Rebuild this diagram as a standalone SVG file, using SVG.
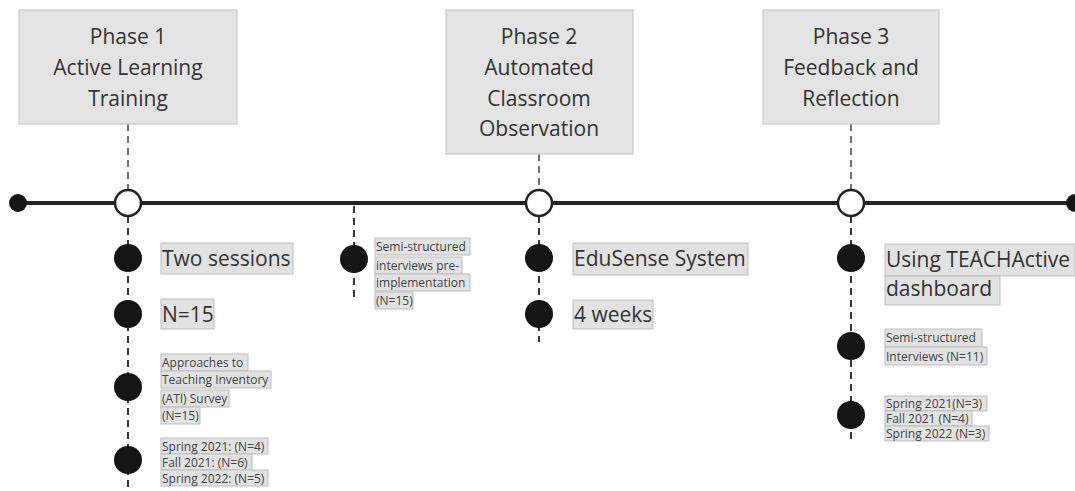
<svg xmlns="http://www.w3.org/2000/svg" width="1075" height="491" viewBox="0 0 1075 491">
<style>
.phase rect{fill:#e4e4e4;stroke:#c8c8c8;stroke-width:1.2}
.phase text{font-family:"Open Sans","DejaVu Sans",sans-serif;font-size:21px;fill:#333;text-anchor:middle}
.hl{fill:#e2e2e2;stroke:#bdbdbd;stroke-width:1}
.big{font-family:"Open Sans","DejaVu Sans",sans-serif;font-size:21px;fill:#333}
.sm{font-family:"Open Sans","DejaVu Sans",sans-serif;font-size:12px;fill:#444}
.dot{fill:#151515}
.hollow{fill:#fff;stroke:#222;stroke-width:2.5}
.up{stroke:#4a4a68;stroke-width:1.6;stroke-dasharray:7 5;fill:none}
.down{stroke:#222;stroke-width:1.8;stroke-dasharray:7 5;fill:none}
</style>
<g id="connectors">
<line class="up" x1="128" y1="124" x2="128" y2="192"/>
<line class="up" x1="539" y1="154" x2="539" y2="192"/>
<line class="up" x1="851" y1="124" x2="851" y2="192"/>
<line class="down" x1="128" y1="216" x2="128" y2="491"/>
<line class="down" x1="539" y1="216" x2="539" y2="342"/>
<line class="down" x1="851" y1="216" x2="851" y2="442"/>
<line class="down" x1="354" y1="206" x2="354" y2="298"/>
<line x1="18" y1="203" x2="1075" y2="203" stroke="#222" stroke-width="4"/>
</g>
<g id="timeline-ends">
<circle class="dot" cx="18" cy="203" r="9"/>
<circle class="dot" cx="1075" cy="203" r="9"/>
</g>
<g id="milestone1"><circle class="hollow" cx="128" cy="203" r="13"/></g>
<g id="milestone2"><circle class="hollow" cx="539" cy="203" r="13"/></g>
<g id="milestone3"><circle class="hollow" cx="851" cy="203" r="13"/></g>
<g id="phase1" class="phase">
<rect x="19" y="10" width="218" height="114"/>
<text x="128" y="44">Phase 1</text>
<text x="128" y="75">Active Learning</text>
<text x="128" y="106">Training</text>
</g>
<g id="phase2" class="phase">
<rect x="446" y="10" width="187" height="144"/>
<text x="539" y="44">Phase 2</text>
<text x="539" y="75">Automated</text>
<text x="539" y="106">Classroom</text>
<text x="539" y="136">Observation</text>
</g>
<g id="phase3" class="phase">
<rect x="763" y="10" width="176" height="114"/>
<text x="851" y="44">Phase 3</text>
<text x="851" y="75">Feedback and</text>
<text x="851" y="106">Reflection</text>
</g>
<g id="p1-two-sessions">
<circle class="dot" cx="128" cy="258" r="14"/>
<rect class="hl" x="161" y="243" width="132" height="31"/>
<text class="big" x="162" y="266">Two sessions</text>
</g>
<g id="p1-n15">
<circle class="dot" cx="128" cy="314" r="14"/>
<rect class="hl" x="161" y="299" width="53" height="30"/>
<text class="big" x="162" y="322">N=15</text>
</g>
<g id="p1-ati">
<circle class="dot" cx="128" cy="387" r="14"/>
<rect class="hl" x="161" y="354" width="87" height="17"/>
<rect class="hl" x="161" y="371" width="110" height="17"/>
<rect class="hl" x="161" y="390" width="68" height="17"/>
<rect class="hl" x="161" y="407" width="39" height="17"/>
<text class="sm" x="162" y="367">Approaches to</text>
<text class="sm" x="162" y="384">Teaching Inventory</text>
<text class="sm" x="162" y="403">(ATI) Survey</text>
<text class="sm" x="162" y="420">(N=15)</text>
</g>
<g id="p1-semesters">
<circle class="dot" cx="128" cy="460" r="14"/>
<rect class="hl" x="161" y="438" width="107" height="16"/>
<rect class="hl" x="161" y="454" width="91" height="16"/>
<rect class="hl" x="161" y="470" width="107" height="16"/>
<text class="sm" x="162" y="451">Spring 2021: (N=4)</text>
<text class="sm" x="162" y="467">Fall 2021: (N=6)</text>
<text class="sm" x="162" y="483">Spring 2022: (N=5)</text>
</g>
<g id="pre-interviews">
<circle class="dot" cx="354" cy="259" r="14"/>
<rect class="hl" x="375" y="238" width="95" height="17"/>
<rect class="hl" x="375" y="257" width="87" height="17"/>
<rect class="hl" x="375" y="274" width="95" height="17"/>
<rect class="hl" x="375" y="292" width="38" height="17"/>
<text class="sm" x="376" y="251">Semi-structured</text>
<text class="sm" x="376" y="270">interviews pre-</text>
<text class="sm" x="376" y="287">implementation</text>
<text class="sm" x="376" y="305">(N=15)</text>
</g>
<g id="p2-edusense">
<circle class="dot" cx="539" cy="258" r="14"/>
<rect class="hl" x="573" y="243" width="175" height="32"/>
<text class="big" x="574" y="266">EduSense System</text>
</g>
<g id="p2-weeks">
<circle class="dot" cx="539" cy="314" r="14"/>
<rect class="hl" x="573" y="300" width="80" height="29"/>
<text class="big" x="574" y="322">4 weeks</text>
</g>
<g id="p3-dashboard">
<circle class="dot" cx="851" cy="258" r="14"/>
<rect class="hl" x="885" y="244" width="190" height="32"/>
<rect class="hl" x="885" y="276" width="115" height="29"/>
<text class="big" x="886" y="267">Using TEACHActive</text>
<text class="big" x="886" y="296">dashboard</text>
</g>
<g id="p3-interviews">
<circle class="dot" cx="851" cy="346" r="14"/>
<rect class="hl" x="885" y="329" width="97" height="18"/>
<rect class="hl" x="885" y="347" width="102" height="18"/>
<text class="sm" x="886" y="342">Semi-structured</text>
<text class="sm" x="886" y="361">Interviews (N=11)</text>
</g>
<g id="p3-semesters">
<circle class="dot" cx="851" cy="415" r="14"/>
<rect class="hl" x="885" y="396" width="102" height="15"/>
<rect class="hl" x="885" y="411" width="87" height="15"/>
<rect class="hl" x="885" y="426" width="104" height="15"/>
<text class="sm" x="886" y="408">Spring 2021(N=3)</text>
<text class="sm" x="886" y="423">Fall 2021 (N=4)</text>
<text class="sm" x="886" y="438">Spring 2022 (N=3)</text>
</g>
</svg>
